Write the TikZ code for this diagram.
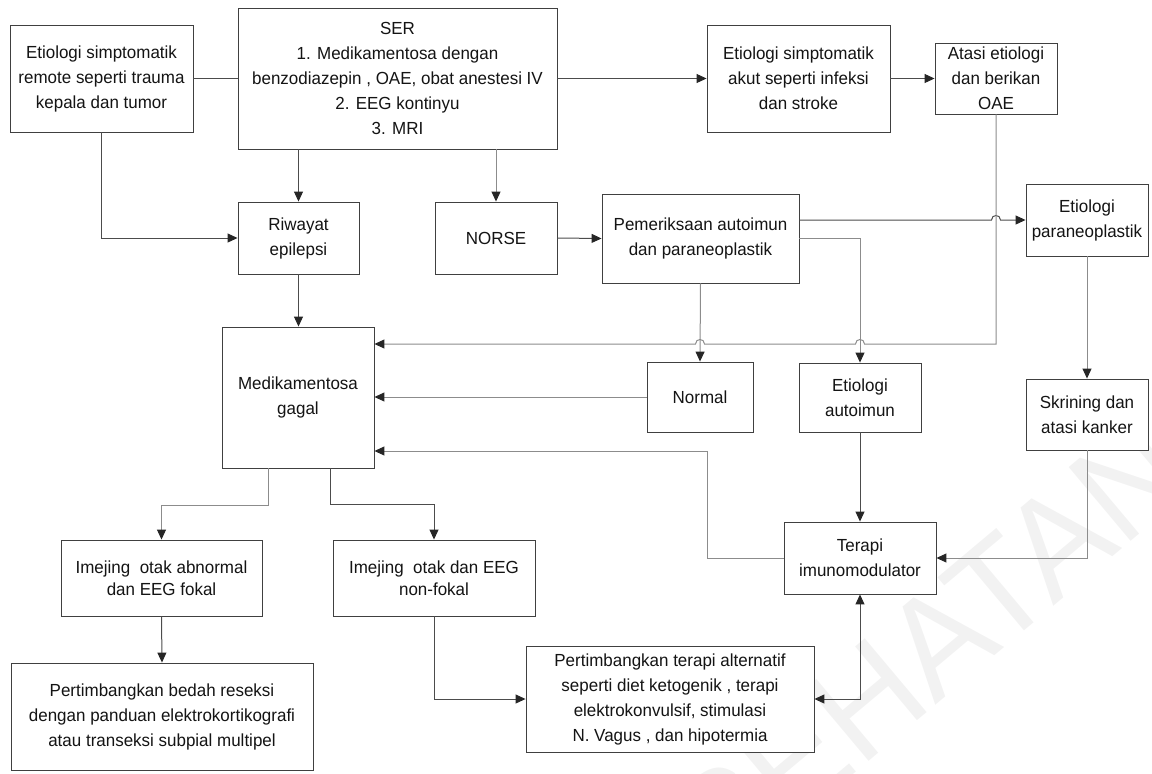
\documentclass[tikz,border=0pt]{standalone}
\usepackage{fontspec}
\setmainfont{Liberation Sans}[FakeStretch=0.97]
\usetikzlibrary{arrows.meta,shadows}
\begin{document}
\begin{tikzpicture}[x=1pt,y=-1pt,
  box/.style={draw=black!75, line width=0.9pt, fill=white, inner sep=0pt, align=center,
    font=\fontsize{17.5}{25}\selectfont, text=black!92,
    general shadow={fill=black!55, shadow xshift=1.2pt, shadow yshift=-1.2pt}},
  tight/.style={font=\fontsize{17.5}{22}\selectfont},
  dk/.style={draw=black!70, line width=1pt, -{Triangle[length=10pt,width=9pt,color=black!85]}},
  lt/.style={draw=black!45, line width=1pt, -{Triangle[length=10pt,width=9pt,color=black!85]}},
  plain/.style={draw=black!70, line width=1pt},
]
\useasboundingbox (0,0) rectangle (1152,774);

% faint watermark behind the chart
\node[rotate=40, anchor=base east, inner sep=0pt, text=black!5,
      font=\fontsize{140}{140}\selectfont] (wm) at (1198,485) {KESEHATAN};

% boxes
\node[box, minimum width=183pt, minimum height=107pt] (remote) at (101.5,78.5)
  {Etiologi simptomatik\\remote seperti trauma\\kepala dan tumor};
\node[box, minimum width=319pt, minimum height=141pt] (ser) at (397.5,78.5)
  {SER\\1. Medikamentosa dengan\\benzodiazepin , OAE, obat anestesi IV\\2. EEG kontinyu\\3. MRI};
\node[box, minimum width=183pt, minimum height=107pt] (akut) at (798.5,78.5)
  {Etiologi simptomatik\\akut seperti infeksi\\dan stroke};
\node[box, minimum width=122pt, minimum height=71pt] (atasi) at (996,78.5)
  {Atasi etiologi\\dan berikan\\OAE};
\node[box, minimum width=121pt, minimum height=72pt] (riwayat) at (298.5,238)
  {Riwayat\\epilepsi};
\node[box, minimum width=122pt, minimum height=72pt] (norse) at (496,238)
  {NORSE};
\node[box, minimum width=197pt, minimum height=89pt] (periksa) at (700.5,238.5)
  {Pemeriksaan autoimun\\dan paraneoplastik};
\node[box, minimum width=122pt, minimum height=72pt] (paraneo) at (1087,220)
  {Etiologi\\paraneoplastik};
\node[box, minimum width=152pt, minimum height=141pt] (medik) at (298,397.5)
  {Medikamentosa\\gagal};
\node[box, minimum width=106pt, minimum height=70pt] (normal) at (700,397)
  {Normal};
\node[box, minimum width=122pt, minimum height=69pt] (autoimun) at (860,397.5)
  {Etiologi\\autoimun};
\node[box, minimum width=122pt, minimum height=71pt] (skrining) at (1087,414.5)
  {Skrining dan\\atasi kanker};
\node[box, minimum width=152pt, minimum height=72pt] (terapi) at (860,558)
  {Terapi\\imunomodulator};
\node[box, tight, minimum width=201pt, minimum height=76pt] (abnormal) at (161.5,578)
  {Imejing\ \ otak abnormal\\dan EEG fokal};
\node[box, tight, minimum width=202pt, minimum height=76pt] (nonfokal) at (434,578)
  {Imejing\ \ otak dan EEG\\non-fokal};
\node[box, minimum width=302pt, minimum height=107pt] (bedah) at (162,716.5)
  {Pertimbangkan bedah reseksi\\dengan panduan elektrokortikografi\\atau transeksi subpial multipel};
\node[box, minimum width=288pt, minimum height=106pt] (alt) at (670,699)
  {Pertimbangkan terapi alternatif\\seperti diet ketogenik , terapi\\elektrokonvulsif, stimulasi\\N. Vagus , dan hipotermia};

% connectors
\draw[plain] (remote.east) -- (ser.west);
\draw[dk] (ser.east) -- (akut.west);
\draw[dk] (akut.east) -- (atasi.west);
\draw[dk] (riwayat.north |- ser.south) -- (riwayat.north);
\draw[lt] (norse.north |- ser.south) -- (norse.north);
\draw[dk] (remote.south) |- (riwayat.west);
\draw[dk] (riwayat.south) -- (riwayat.south |- medik.north);
\draw[dk] (norse.east) -- (periksa.west);
\draw[dk] (periksa.east |- paraneo.west) -- (991.5,220)
  .. controls (991.5,214) and (1000.5,214) .. (1000.5,220) -- (paraneo.west);
\draw[lt] (periksa.east) -| (autoimun.north);
\draw[lt] (periksa.south) -- (normal.north);
\draw[lt] (atasi.south) -- (atasi.south |- 0,344) -- (864.5,344)
  .. controls (864.5,338) and (855.5,338) .. (855.5,344) -- (704.5,344)
  .. controls (704.5,338) and (695.5,338) .. (695.5,344) -- (medik.east |- 0,344);
\draw[lt] (normal.west) -- (medik.east |- normal.west);
\draw[lt] (terapi.west) -- (707,558) |- (medik.east |- 0,451);
\draw[dk] (autoimun.south) -- (terapi.north);
\draw[lt] (paraneo.south) -- (skrining.north);
\draw[lt] (skrining.south) |- (terapi.east);
\draw[dk, {Triangle[length=10pt,width=9pt,color=black!85]}-{Triangle[length=10pt,width=9pt,color=black!85]}]
  (alt.east) -| (terapi.south);
\draw[lt] ([xshift=-30pt]medik.south) -- ++(0,37) -| (abnormal.north);
\draw[dk] ([xshift=32pt]medik.south) -- ++(0,36) -| (nonfokal.north);
\draw[dk] (abnormal.south) -- (bedah.north);
\draw[dk] (nonfokal.south) |- (alt.west);
\end{tikzpicture}
\end{document}
